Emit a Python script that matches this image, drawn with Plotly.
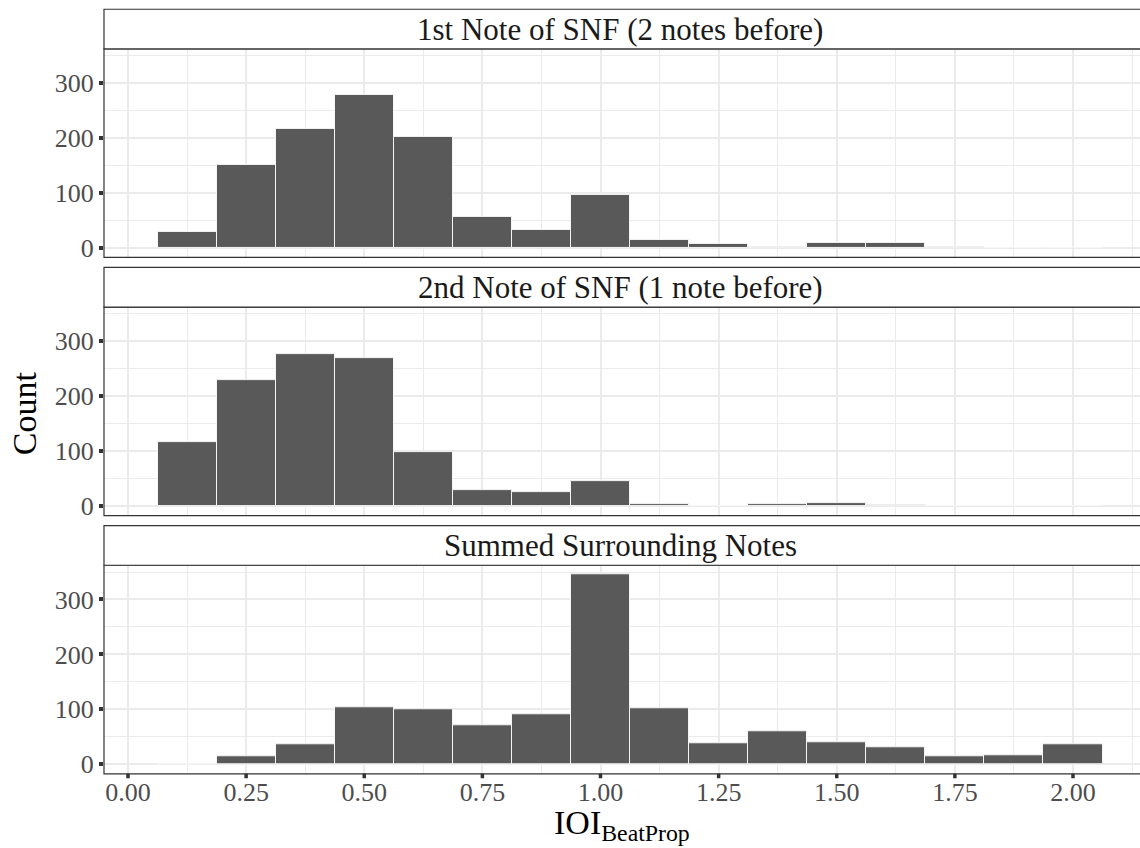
import plotly.graph_objects as go

# Histogram bins (centres, width 0.125) of the beat-proportional IOI
bin_centers = [0.125, 0.25, 0.375, 0.5, 0.625, 0.75, 0.875, 1.0,
               1.125, 1.25, 1.375, 1.5, 1.625, 1.75, 1.875, 2.0]
bin_width = 0.125

first_note_counts = [29, 152, 217, 278, 203, 57, 33, 96, 14, 7, 2, 10, 9, 1, 0, 0]
second_note_counts = [116, 230, 276, 269, 98, 29, 25, 46, 4, 0, 3, 5, 2, 0, 0, 0]
summed_counts = [0, 14, 37, 103, 100, 71, 91, 345, 102, 39, 60, 40, 31, 14, 17, 37]

panel_titles = ["1st Note of SNF (2 notes before)",
                "2nd Note of SNF (1 note before)",
                "Summed Surrounding Notes"]
panel_counts = [first_note_counts, second_note_counts, summed_counts]

y_ticks = [0, 100, 200, 300]
x_ticks = [0.0, 0.25, 0.5, 0.75, 1.0, 1.25, 1.5, 1.75, 2.0]

W, H = 1140, 848
FONT = "Liberation Serif"
BORDER = "#333333"
GRID = "#EBEBEB"

# pixel geometry of each facet: (strip top, panel top, panel bottom)
facets_px = [(9.3, 49.3, 259.3), (269.3, 309.3, 519.3), (529.3, 569.3, 779.3)]


def py(p):
    return 1 - p / H


ymax = max(max(c) for c in panel_counts)
y_range = [-0.05 * ymax, 1.05 * ymax]
x_range = [-0.0508, 2.1418]

fig = go.Figure()
shapes = []
annotations = []

for i, (counts, title, (s_top, p_top, p_bot)) in enumerate(zip(panel_counts, panel_titles, facets_px)):
    n = "" if i == 0 else str(i + 1)
    fig.add_trace(go.Bar(
        x=bin_centers, y=counts, width=bin_width,
        marker=dict(color="#595959", line=dict(color="#F5F5F5", width=1)),
        xaxis="x" + n, yaxis="y" + n, showlegend=False, hoverinfo="x+y",
    ))
    last = i == 2
    fig.update_layout(**{
        "xaxis" + n: dict(
            domain=[0, 1], range=x_range, anchor="y" + n,
            tickmode="array", tickvals=x_ticks,
            ticktext=[f"{v:.2f}" for v in x_ticks],
            showticklabels=last, ticks="",
            tickfont=dict(family=FONT, size=26, color="#4D4D4D"),
            showgrid=True, gridcolor=GRID, gridwidth=1.5,
            minor=dict(dtick=0.125, tick0=0.125, showgrid=True, gridcolor=GRID, gridwidth=0.8),
            zeroline=False, showline=False,
            matches=None if i == 0 else "x",
        ),
        "yaxis" + n: dict(
            domain=[py(p_bot), py(p_top)], range=y_range, anchor="x" + n,
            tickmode="array", tickvals=y_ticks,
            ticks="outside", ticklen=4, tickwidth=3.5, tickcolor=BORDER,
            tickfont=dict(family=FONT, size=26, color="#4D4D4D"),
            showgrid=True, gridcolor=GRID, gridwidth=1.5,
            minor=dict(dtick=100, tick0=50, showgrid=True, gridcolor=GRID, gridwidth=0.8),
            zeroline=False, showline=False,
        ),
    })
    # panel border
    shapes.append(dict(type="rect", xref="paper", yref="paper",
                       x0=0, x1=1.003, y0=py(p_bot), y1=py(p_top),
                       line=dict(color=BORDER, width=1.2), fillcolor="rgba(0,0,0,0)",
                       layer="above"))
    # strip
    shapes.append(dict(type="rect", xref="paper", yref="paper",
                       x0=0, x1=1.003, y0=py(p_top), y1=py(s_top),
                       line=dict(color=BORDER, width=1.2), fillcolor="white",
                       layer="above"))
    annotations.append(dict(text=title, xref="paper", yref="paper",
                            x=0.4985, y=py((s_top + p_top) / 2),
                            xanchor="center", yanchor="middle", showarrow=False,
                            font=dict(family=FONT, size=31, color="#1A1A1A")))

# short outside tick marks under the bottom panel, placed on the x scale
bottom_px = facets_px[-1][2]
for v in x_ticks:
    shapes.append(dict(type="line", xref="x3", yref="paper",
                       x0=v, x1=v, y0=py(bottom_px), y1=py(bottom_px + 4.5),
                       line=dict(color=BORDER, width=3.5), layer="above"))

annotations.append(dict(text="Count", xref="paper", yref="paper",
                        x=-0.077, y=py(416), textangle=-90,
                        xanchor="center", yanchor="middle", showarrow=False,
                        font=dict(family=FONT, size=34, color="black")))
annotations.append(dict(text="IOI<sub>BeatProp</sub>", xref="paper", yref="paper",
                        x=0.5, y=0, xanchor="center", yanchor="bottom", yshift=-6,
                        showarrow=False, font=dict(family=FONT, size=34, color="black")))

fig.update_layout(
    width=W, height=H,
    margin=dict(l=104, r=0, t=0, b=0),
    plot_bgcolor="white", paper_bgcolor="white",
    bargap=0, shapes=shapes, annotations=annotations,
)

fig.write_html("out.html")
